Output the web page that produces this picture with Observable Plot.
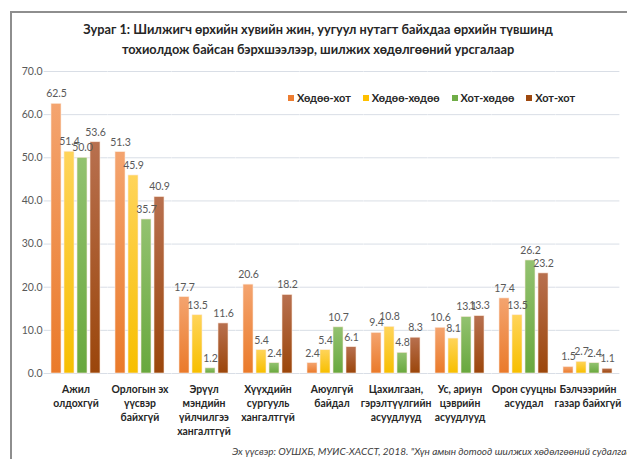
<!DOCTYPE html>
<html><head><meta charset="utf-8">
<script src="https://cdn.jsdelivr.net/npm/d3@7"></script>
<script src="https://cdn.jsdelivr.net/npm/@observablehq/plot@0.6"></script>
<style>
body{margin:0;background:#fff;}
#wrap{position:relative;width:627px;height:459px;overflow:hidden;font-family:Lato,"Liberation Sans Narrow",sans-serif;}
#frame{position:absolute;left:10px;top:11px;right:-10px;bottom:-10px;border-left:2px solid #8e8e8e;border-top:2px solid #8e8e8e;}
#title{position:absolute;left:0;width:636px;top:19px;text-align:center;font-weight:bold;font-size:15px;line-height:20px;color:#262626;white-space:nowrap;}
#legend{position:absolute;top:91px;left:288px;display:flex;font-size:11px;font-weight:bold;color:#262626;white-space:nowrap;}
#legend .it{display:flex;align-items:center;margin-right:12px;}
#legend .sw{width:6px;height:6px;margin-right:3px;}
#chart{position:absolute;left:0;top:60px;}
#source{position:absolute;left:232px;top:445px;font-style:italic;font-size:10px;color:#404040;white-space:nowrap;}
</style></head>
<body><div id="wrap">
<div id="frame"></div>
<div id="title"><span id="t1">Зураг 1: Шилжигч өрхийн хувийн жин, уугуул нутагт байхдаа өрхийн түвшинд</span><br><span id="t2">тохиолдож байсан бэрхшээлээр, шилжих хөдөлгөөний урсгалаар</span></div>
<div id="chart"></div>
<div id="legend"></div>
<div id="source">Эх үүсвэр: ОУШХБ, МУИС-ХАСCТ, 2018. "Хүн амын дотоод шилжих хөдөлгөөний судалгаа"</div>
</div>
<script>
const categories = ["Ажил\nолдохгүй","Орлогын эх\nүүсвэр\nбайхгүй","Эрүүл\nмэндийн\nүйлчилгээ\nхангалтгүй","Хүүхдийн\nсургууль\nхангалтгүй","Аюулгүй\nбайдал","Цахилгаан,\nгэрэлтүүлгийн\nасуудлууд","Ус, ариун\nцэврийн\nасуудлууд","Орон сууцны\nасуудал","Бэлчээрийн\nгазар байхгүй"];
const seriesNames = ["Хөдөө-хот","Хөдөө-хөдөө","Хот-хөдөө","Хот-хот"];
const hodooHot   = [62.5, 51.3, 17.7, 20.6, 2.4, 9.4, 10.6, 17.4, 1.5];
const hodooHodoo = [51.4, 45.9, 13.5, 5.4, 5.4, 10.8, 8.1, 13.5, 2.7];
const hotHodoo   = [50.0, 35.7, 1.2, 2.4, 10.7, 4.8, 13.1, 26.2, 2.4];
const hotHot     = [53.6, 40.9, 11.6, 18.2, 6.1, 8.3, 13.3, 23.2, 1.1];
const yTicks = [0,10,20,30,40,50,60,70];

const seriesValues = [hodooHot, hodooHodoo, hotHodoo, hotHot];
const gradTop = ["#f4a46f","#ffd45a","#93c270","#b8704f"];
const gradBottom = ["#ea7a2a","#f7bf00","#69a83e","#9b460b"];
const solid = ["#ed7d31","#ffc000","#70ad47","#9e480e"];
const gradIds = seriesNames.map((_,i)=>"grad"+i);

const data = categories.flatMap((c,i)=>seriesNames.map((s,j)=>({category:c, series:s, value:seriesValues[j][i]})));
const fmt = d3.format(".1f");
const font = 'Lato,"Liberation Sans Narrow",sans-serif';

const W = 627, mL = 40, mR = 3;
const padIn = 0.166, padOut = padIn/2;
const step = (W - mL - mR) / (categories.length - padIn + 2*padOut);
const halfGap = step*padIn/2;

const chart = Plot.plot({
  width: W, height: 380,
  marginLeft: mL, marginRight: mR, marginTop: 11, marginBottom: 67,
  style: {fontFamily: font, fontSize: "10.5px", color: "#595959", background: "transparent", overflow: "visible"},
  fx: {domain: categories, paddingInner: padIn, paddingOuter: padOut, label: null},
  x: {domain: seriesNames, axis: null, paddingInner: 0.2, paddingOuter: 0},
  y: {domain: [0,70], label: null},
  color: {domain: seriesNames, range: gradIds.map(id=>`url(#${id})`)},
  marks: [
    Plot.ruleY(yTicks, {stroke: "#d9dee6", strokeWidth: 1, insetLeft: -halfGap, insetRight: -halfGap}),
    Plot.axisY({ticks: yTicks, tickSize: 0, tickPadding: 7, tickFormat: fmt, fill: "#595959", label: null}),
    Plot.axisFx({anchor: "bottom", tickSize: 0, tickPadding: 9, fontWeight: "bold", fontSize: 10.4, fill: "#262626", lineHeight: 1.36, lineAnchor: "top", label: null}),
    Plot.barY(data, {fx: "category", x: "series", y: "value", fill: "series", stroke: "#fbe9dc", strokeWidth: 0.6}),
    Plot.text(data, {fx: "category", x: "series", y: "value", text: d=>fmt(d.value), dy: -10, fill: "#595959"})
  ]
});
const svg = d3.select(chart);
const defs = svg.insert("defs", ":first-child");
gradIds.forEach((id,i)=>{
  const g = defs.append("linearGradient").attr("id", id).attr("x1",0).attr("y1",0).attr("x2",0).attr("y2",1);
  g.append("stop").attr("offset","0%").attr("stop-color", gradTop[i]);
  g.append("stop").attr("offset","100%").attr("stop-color", gradBottom[i]);
});
document.getElementById("chart").appendChild(chart);

const leg = d3.select("#legend");
seriesNames.forEach((s,i)=>{
  const it = leg.append("div").attr("class","it");
  it.append("div").attr("class","sw").style("background", solid[i]);
  it.append("span").text(s);
});

const t1 = document.getElementById("t1");
const w = t1.getBoundingClientRect().width;
document.getElementById("title").style.fontSize = (15*470/w)+"px";
</script>
</body></html>
